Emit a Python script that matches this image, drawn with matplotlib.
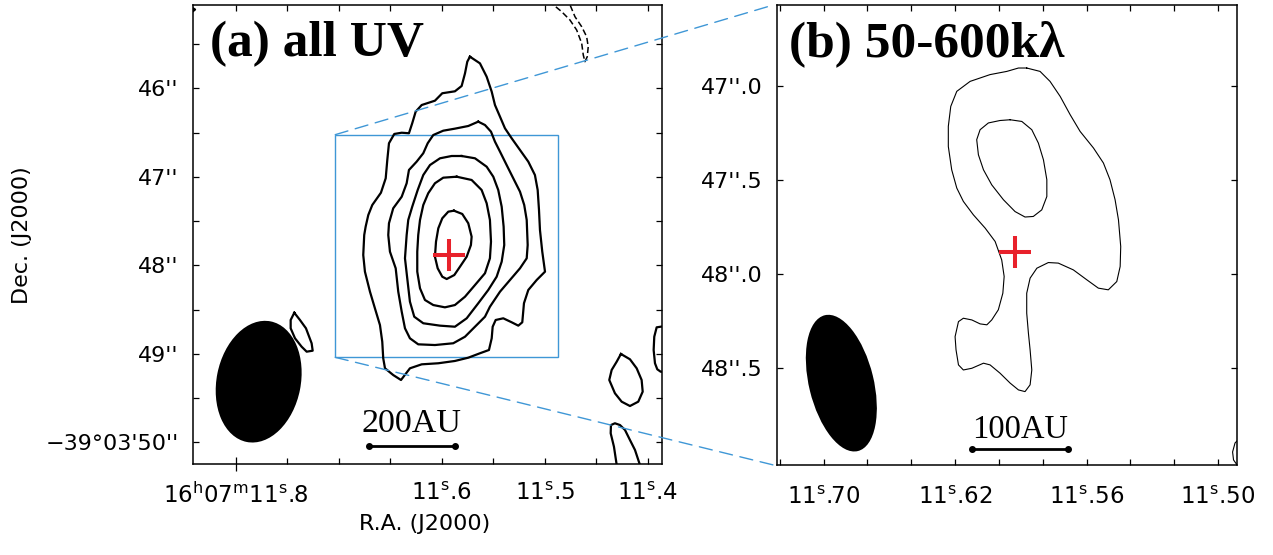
import matplotlib
matplotlib.use('Agg')
import numpy as np
import matplotlib.pyplot as plt
from matplotlib.patches import Ellipse, Rectangle, ConnectionPatch

plt.rcParams['font.family'] = ['DejaVu Sans']
plt.rcParams['mathtext.default'] = 'regular'

# map coordinates: x = R.A. offset in arcsec (east +) from 16h07m11.6s,
# y = Dec. seconds of -39d03'
RA_REF = 11.6
ARCSEC_PER_SEC = 11.65      # 15 cos(dec)


def ra_to_x(ra):
    return (np.asarray(ra) - RA_REF) * ARCSEC_PER_SEC


# ---------------- panel (a): all UV ----------------
a_cont1 = [(-0.320, 45.643), (-0.433, 45.718), (-0.509, 45.869), (-0.566, 46.038), (-0.603, 46.189),
           (-0.660, 46.321), (-0.716, 46.452), (-0.792, 46.565), (-0.886, 46.697), (-0.980, 46.829),
           (-1.055, 46.980), (-1.086, 47.149), (-1.101, 47.375), (-1.112, 47.601), (-1.138, 47.846),
           (-1.169, 48.072), (-1.075, 48.166), (-0.980, 48.279), (-0.931, 48.429), (-0.912, 48.644),
           (-0.867, 48.682), (-0.792, 48.644), (-0.697, 48.599), (-0.611, 48.618), (-0.577, 48.694),
           (-0.566, 48.825), (-0.535, 48.957), (-0.433, 48.994), (-0.301, 49.044), (-0.150, 49.081),
           (0.038, 49.107), (0.226, 49.119), (0.359, 49.164), (0.460, 49.296), (0.548, 49.240),
           (0.641, 49.164), (0.661, 49.051), (0.672, 48.863), (0.698, 48.675), (0.755, 48.486),
           (0.811, 48.298), (0.868, 48.072), (0.887, 47.884), (0.876, 47.658), (0.860, 47.564),
           (0.830, 47.432), (0.785, 47.319), (0.687, 47.180), (0.633, 47.017), (0.615, 46.810),
           (0.596, 46.621), (0.536, 46.516), (0.452, 46.502), (0.370, 46.508), (0.333, 46.395),
           (0.294, 46.264), (0.226, 46.189), (0.076, 46.140), (-0.007, 46.056), (-0.150, 46.034),
           (-0.226, 45.974), (-0.264, 45.831), (-0.290, 45.699)]
a_cont2 = [(-0.414, 46.377), (-0.490, 46.415), (-0.558, 46.490), (-0.603, 46.603), (-0.660, 46.716),
           (-0.735, 46.867), (-0.810, 47.017), (-0.886, 47.168), (-0.934, 47.319), (-0.962, 47.488),
           (-0.973, 47.771), (-0.962, 47.921), (-0.886, 48.034), (-0.773, 48.166), (-0.660, 48.298),
           (-0.546, 48.468), (-0.490, 48.581), (-0.377, 48.694), (-0.264, 48.807), (-0.131, 48.881),
           (0.076, 48.901), (0.265, 48.893), (0.359, 48.825), (0.415, 48.712), (0.452, 48.524),
           (0.491, 48.298), (0.520, 48.034), (0.585, 47.846), (0.604, 47.658), (0.596, 47.525),
           (0.548, 47.356), (0.452, 47.225), (0.396, 47.073), (0.370, 46.923), (0.283, 46.829),
           (0.208, 46.734), (0.158, 46.621), (0.095, 46.528), (-0.018, 46.479), (-0.150, 46.456),
           (-0.301, 46.426)]
a_cont3 = [(-0.226, 46.765), (-0.377, 46.791), (-0.509, 46.886), (-0.584, 46.999), (-0.640, 47.149),
           (-0.679, 47.338), (-0.701, 47.564), (-0.708, 47.771), (-0.679, 47.959), (-0.622, 48.129),
           (-0.527, 48.279), (-0.414, 48.429), (-0.283, 48.599), (-0.150, 48.694), (0.019, 48.682),
           (0.208, 48.655), (0.310, 48.581), (0.359, 48.411), (0.385, 48.185), (0.415, 47.921),
           (0.396, 47.658), (0.378, 47.488), (0.333, 47.338), (0.271, 47.149), (0.208, 46.980),
           (0.132, 46.867), (0.019, 46.791), (-0.113, 46.765)]
a_cont4 = [(-0.170, 46.999), (-0.339, 47.036), (-0.452, 47.149), (-0.509, 47.299), (-0.546, 47.488),
           (-0.558, 47.733), (-0.546, 47.921), (-0.490, 48.090), (-0.377, 48.223), (-0.264, 48.355),
           (-0.150, 48.449), (-0.037, 48.475), (0.095, 48.449), (0.189, 48.392), (0.245, 48.260),
           (0.276, 48.072), (0.276, 47.846), (0.265, 47.658), (0.245, 47.488), (0.208, 47.319),
           (0.152, 47.186), (0.076, 47.073), (-0.018, 47.010)]
a_cont5 = [(-0.139, 47.383), (-0.233, 47.420), (-0.301, 47.525), (-0.339, 47.677), (-0.331, 47.771),
           (-0.283, 47.903), (-0.207, 48.016), (-0.143, 48.110), (-0.057, 48.155), (-0.007, 48.129),
           (0.045, 48.034), (0.076, 47.903), (0.064, 47.733), (0.038, 47.582), (-0.007, 47.469),
           (-0.075, 47.394)]
a_island_beam = [(1.667, 48.536), (1.603, 48.618), (1.535, 48.712), (1.471, 48.881), (1.459, 48.965),
                 (1.527, 48.976), (1.584, 48.920), (1.659, 48.825), (1.708, 48.712), (1.708, 48.618)]
a_island_se = [(-2.028, 49.002), (-2.130, 49.062), (-2.206, 49.164), (-2.262, 49.296), (-2.274, 49.428),
               (-2.224, 49.541), (-2.130, 49.590), (-2.036, 49.541), (-1.960, 49.446), (-1.896, 49.296),
               (-1.923, 49.183), (-1.980, 49.089)]
a_edge_w = [(-2.537, 48.686), (-2.477, 48.694), (-2.432, 48.701), (-2.405, 48.807), (-2.398, 48.957),
            (-2.413, 49.107), (-2.439, 49.175), (-2.477, 49.202), (-2.537, 49.206)]
a_edge_s = [(-1.989, 50.313), (-1.980, 50.256), (-1.949, 50.050), (-1.912, 49.898), (-1.915, 49.805),
            (-1.960, 49.785), (-2.017, 49.805), (-2.074, 49.861), (-2.130, 49.974), (-2.187, 50.087),
            (-2.243, 50.256), (-2.266, 50.313)]
a_edge_ne = [(2.84, 45.08), (2.79, 45.11), (2.84, 45.15)]
a_negative = [(-1.225, 45.002), (-1.262, 45.055), (-1.357, 45.134), (-1.451, 45.228), (-1.527, 45.341),
              (-1.584, 45.492), (-1.602, 45.624), (-1.621, 45.699), (-1.647, 45.643), (-1.658, 45.530),
              (-1.640, 45.417), (-1.584, 45.304), (-1.508, 45.191), (-1.451, 45.055), (-1.429, 45.002)]

a_beam = dict(x=2.070, y=49.315, minor=0.952, major=1.389, angle=-11.25)
a_scalebar = [0.822, -0.150]
a_scalebar_y = 50.038
a_zoom_box = [1.204, -1.319, 46.524, 49.040]     # x east, x west, y north, y south

a_ra_major = [11.8, 11.6, 11.5, 11.4]
a_ra_labels = [r'16$^{\rm h}$07$^{\rm m}$11$^{\rm s}$.8', r'11$^{\rm s}$.6',
               r'11$^{\rm s}$.5', r'11$^{\rm s}$.4']
a_ra_minor = [11.75, 11.7, 11.65, 11.55, 11.45]
a_dec_major = [46, 47, 48, 49, 50]
a_dec_labels = ["46''", "47''", "48''", "49''", "\u221239\u00b003'50''"]
a_dec_minor = [45.5, 46.5, 47.5, 48.5, 49.5]

# ---------------- panel (b): 50-600 klambda ----------------
b_cont1 = [(-0.148, 46.906), (-0.219, 46.924), (-0.272, 46.977), (-0.326, 47.057), (-0.379, 47.154),
           (-0.432, 47.243), (-0.503, 47.331), (-0.556, 47.411), (-0.591, 47.500), (-0.618, 47.606),
           (-0.636, 47.713), (-0.648, 47.855), (-0.645, 47.961), (-0.627, 48.041), (-0.582, 48.085),
           (-0.529, 48.076), (-0.468, 48.032), (-0.396, 47.979), (-0.316, 47.943), (-0.263, 47.940),
           (-0.202, 47.970), (-0.166, 48.023), (-0.148, 48.103), (-0.148, 48.209), (-0.157, 48.315),
           (-0.166, 48.404), (-0.175, 48.511), (-0.166, 48.590), (-0.139, 48.626), (-0.104, 48.617),
           (-0.060, 48.581), (-0.006, 48.528), (0.047, 48.484), (0.082, 48.475), (0.144, 48.502),
           (0.189, 48.511), (0.215, 48.484), (0.228, 48.404), (0.233, 48.334), (0.215, 48.254),
           (0.189, 48.236), (0.144, 48.245), (0.100, 48.266), (0.064, 48.271), (0.038, 48.245),
           (0.003, 48.191), (-0.021, 48.103), (-0.028, 48.014), (-0.015, 47.926), (0.020, 47.828),
           (0.073, 47.757), (0.136, 47.686), (0.189, 47.615), (0.224, 47.544), (0.251, 47.447),
           (0.269, 47.323), (0.269, 47.216), (0.256, 47.110), (0.224, 47.030), (0.153, 46.977),
           (0.047, 46.941), (-0.042, 46.924), (-0.104, 46.906)]
b_cont2 = [(-0.060, 47.181), (-0.122, 47.190), (-0.175, 47.234), (-0.210, 47.305), (-0.237, 47.394),
           (-0.255, 47.500), (-0.255, 47.589), (-0.228, 47.660), (-0.183, 47.695), (-0.139, 47.698),
           (-0.086, 47.669), (-0.024, 47.606), (0.038, 47.527), (0.082, 47.447), (0.109, 47.367),
           (0.118, 47.287), (0.100, 47.234), (0.056, 47.198), (-0.006, 47.185)]
b_edge_sw = [(-1.283, 48.872), (-1.256, 48.899), (-1.243, 48.947), (-1.248, 48.989), (-1.267, 49.016),
             (-1.283, 49.032)]

b_beam = dict(x=0.838, y=48.581, minor=0.344, major=0.743, angle=13.7)
b_scalebar = [0.143, -0.370]
b_scalebar_y = 48.931

b_ra_major = [11.68, 11.62, 11.56, 11.50]
b_ra_labels = [r'11$^{\rm s}$.70', r'11$^{\rm s}$.62', r'11$^{\rm s}$.56', r'11$^{\rm s}$.50']
b_ra_minor = [11.70, 11.66, 11.64, 11.60, 11.58, 11.54, 11.52]
b_dec_major = [47.0, 47.5, 48.0, 48.5]
b_dec_labels = ["47''.0", "47''.5", "48''.0", "48''.5"]

# protostar position
star = (-0.088, 47.883)

RED = '#e8212b'
BLUE = '#3f97d6'


def closed(ax, pts, **kw):
    p = np.array(pts + pts[:1])
    ax.plot(p[:, 0], p[:, 1], **kw)


def opened(ax, pts, **kw):
    p = np.array(pts)
    ax.plot(p[:, 0], p[:, 1], **kw)


def style_axes(ax):
    for s in ax.spines.values():
        s.set_linewidth(1.1)
    ax.tick_params(which='both', direction='in', length=4.3, width=0.9,
                   top=True, right=True, color='black')
    ax.tick_params(axis='y', labelsize=16, pad=10.5)


fig = plt.figure(figsize=(12.73, 5.55), dpi=100)
axa = fig.add_axes([0.1516, 0.1640, 0.3684, 0.8276])
axb = fig.add_axes([0.6104, 0.1622, 0.3614, 0.8288])

# ---- panel (a)
lw_a = 1.6
for c in [a_cont1, a_cont2, a_cont3, a_cont4, a_cont5, a_island_beam, a_island_se]:
    closed(axa, c, color='black', lw=lw_a, zorder=3)
for c in [a_edge_w, a_edge_s, a_edge_ne]:
    opened(axa, c, color='black', lw=lw_a, zorder=3)
opened(axa, a_negative, color='black', lw=1.1, ls=(0, (4, 2)), zorder=3)

axa.add_patch(Ellipse((a_beam['x'], a_beam['y']), a_beam['minor'], a_beam['major'],
                      angle=a_beam['angle'], facecolor='black', edgecolor='none'))
bx0, bx1, by0, by1 = a_zoom_box
axa.add_patch(Rectangle((bx1, by0), bx0 - bx1, by1 - by0, fill=False,
                        edgecolor=BLUE, lw=1.0, zorder=2))
axa.plot(a_scalebar, [a_scalebar_y] * 2, color='black', lw=2, marker='o', ms=4, zorder=3)
axa.text(np.mean(a_scalebar), a_scalebar_y - 0.155, '200AU', ha='center', va='baseline',
         fontsize=24.5, family='Liberation Serif')
axa.plot(*star, marker='+', color=RED, ms=23, mew=2.9, zorder=4)
axa.text(0.036, 0.887, '(a) all UV', transform=axa.transAxes, fontsize=37,
         family='Liberation Serif', weight='bold', va='baseline')

axa.set_xlim(2.813, -2.492)
axa.set_ylim(50.245, 45.055)
style_axes(axa)
axa.set_xticks(ra_to_x(a_ra_major))
axa.set_xticklabels(a_ra_labels)
axa.set_xticks(ra_to_x(a_ra_minor), minor=True)
axa.set_yticks(a_dec_major)
axa.set_yticklabels(a_dec_labels)
axa.set_yticks(a_dec_minor, minor=True)
axa.tick_params(axis='x', labelsize=16.5, pad=13)
t0 = axa.xaxis.get_major_ticks()[0]
t0.tick1line.set_marker('|')
t0.tick1line.set_markersize(10)

# ---- panel (b)
lw_b = 0.8
for c in [b_cont1, b_cont2]:
    closed(axb, c, color='black', lw=lw_b, zorder=3)
opened(axb, b_edge_sw, color='black', lw=lw_b, zorder=3)
axb.add_patch(Ellipse((b_beam['x'], b_beam['y']), b_beam['minor'], b_beam['major'],
                      angle=b_beam['angle'], facecolor='black', edgecolor='none'))
axb.plot(b_scalebar, [b_scalebar_y] * 2, color='black', lw=2, marker='o', ms=4, zorder=3)
axb.text(np.mean(b_scalebar), b_scalebar_y - 0.057, '100AU', ha='center', va='baseline',
         fontsize=23.5, family='Liberation Serif')
axb.plot(*star, marker='+', color=RED, ms=23, mew=2.9, zorder=4)
axb.text(0.027, 0.888, '(b) 50-600k\u03bb', transform=axb.transAxes, fontsize=37,
         family='Liberation Serif', weight='bold', va='baseline')

axb.set_xlim(1.180, -1.267)
axb.set_ylim(49.016, 46.571)
style_axes(axb)
axb.set_xticks(ra_to_x(b_ra_major))
axb.set_xticklabels(b_ra_labels)
axb.set_xticks(ra_to_x(b_ra_minor), minor=True)
axb.set_yticks(b_dec_major)
axb.set_yticklabels(b_dec_labels)
axb.tick_params(axis='x', labelsize=16.5, pad=15)

# zoom connectors
for ya, yb in [(by0, 1), (by1, 0)]:
    con = ConnectionPatch(xyA=(bx0, ya), coordsA=axa.transData,
                          xyB=(-0.008, yb), coordsB=axb.transAxes,
                          color=BLUE, lw=1.0, ls=(0, (9.5, 5.5)))
    fig.add_artist(con)

fig.text(425 / 1273, 1 - 524 / 555, 'R.A. (J2000)', ha='center', va='center', fontsize=16)
fig.text(22 / 1273, 1 - 235 / 555, 'Dec. (J2000)', ha='center', va='center',
         rotation=90, fontsize=16)

fig.savefig('out.png', dpi=100)
